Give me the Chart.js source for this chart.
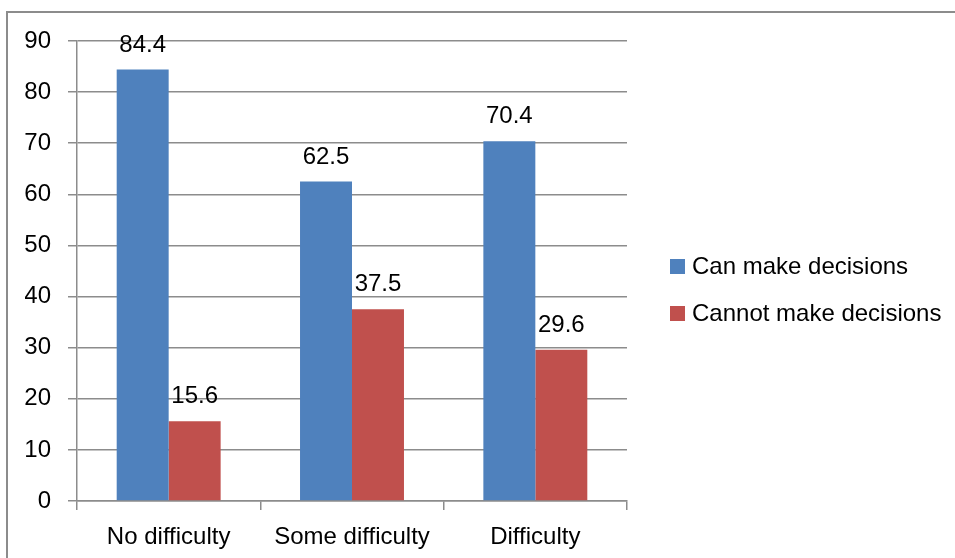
<!DOCTYPE html>
<html>
<head>
<meta charset="utf-8">
<script src="https://cdn.jsdelivr.net/npm/chart.js@4"></script>
<style>
  html, body { margin: 0; padding: 0; background: #fff; overflow: hidden; }
  #wrap { position: relative; width: 955px; height: 558px; }
  #frame { position: absolute; left: 6px; top: 11px; width: 1000px; height: 1000px;
           border-left: 2px solid #8c8c8c; border-top: 2px solid #8c8c8c; }
  #Chart01 { position: absolute; left: 0; top: 0; }
</style>
</head>
<body>
<div id="wrap">
  <div id="frame"></div>
  <canvas id="Chart01" width="955" height="558"></canvas>
</div>
<script>
/* Data */
const categories = ['No difficulty', 'Some difficulty', 'Difficulty'];
const canDecide = [84.4, 62.5, 70.4];
const cannotDecide = [15.6, 37.5, 29.6];
const seriesNames = ['Can make decisions', 'Cannot make decisions'];
const seriesColors = ['#4F81BD', '#C0504D'];

const FONT = 'Liberation Sans';
const FSIZE = 24;

/* value labels above bars */
const barLabels = {
  id: 'barLabels',
  afterDatasetsDraw(chart) {
    const ctx = chart.ctx;
    ctx.save();
    ctx.font = FSIZE + 'px "' + FONT + '"';
    ctx.fillStyle = '#000';
    ctx.textAlign = 'center';
    ctx.textBaseline = 'alphabetic';
    chart.data.datasets.forEach((ds, i) => {
      chart.getDatasetMeta(i).data.forEach((bar, j) => {
        ctx.fillText(ds.data[j].toFixed(1), bar.x, bar.y - 18);
      });
    });
    ctx.restore();
  }
};

/* legend on the right */
const sideLegend = {
  id: 'sideLegend',
  afterDraw(chart) {
    const ctx = chart.ctx;
    ctx.save();
    ctx.font = FSIZE + 'px "' + FONT + '"';
    ctx.textBaseline = 'middle';
    ctx.textAlign = 'left';
    chart.data.datasets.forEach((ds, i) => {
      const y = 266 + i * 47;
      ctx.fillStyle = ds.backgroundColor;
      ctx.fillRect(670, y - 7, 15, 15);
      ctx.fillStyle = '#000';
      ctx.fillText(ds.label, 692, y + 1);
    });
    ctx.restore();
  }
};

const config01 = {
  type: 'bar',
  data: {
    labels: categories,
    datasets: [
      { label: seriesNames[0], data: canDecide, backgroundColor: seriesColors[0] },
      { label: seriesNames[1], data: cannotDecide, backgroundColor: seriesColors[1] }
    ]
  },
  options: {
    responsive: false,
    animation: false,
    layout: { padding: { left: 25, right: 328, top: 41, bottom: 0 } },
    datasets: { bar: { categoryPercentage: 0.567, barPercentage: 1.0 } },
    plugins: {
      legend: { display: false },
      tooltip: { enabled: false }
    },
    scales: {
      x: {
        afterFit: (s) => { s.height = 57; },
        grid: { display: true, drawOnChartArea: false, drawTicks: true, tickLength: 9,
                color: '#8c8c8c', lineWidth: 1.5, offset: true },
        border: { display: true, color: '#8c8c8c', width: 1.5 },
        ticks: { color: '#000', padding: 13, font: { family: FONT, size: FSIZE } }
      },
      y: {
        min: 0, max: 90,
        afterFit: (s) => { s.width = 52; },
        grid: { color: '#8c8c8c', lineWidth: 1.5, tickLength: 9 },
        border: { display: true, color: '#8c8c8c', width: 1.5 },
        ticks: { stepSize: 10, color: '#000', padding: 17, font: { family: FONT, size: FSIZE } }
      }
    }
  },
  plugins: [barLabels, sideLegend]
};

const ctxch01 = document.getElementById('Chart01');
new Chart(ctxch01, config01);
</script>
</body>
</html>
